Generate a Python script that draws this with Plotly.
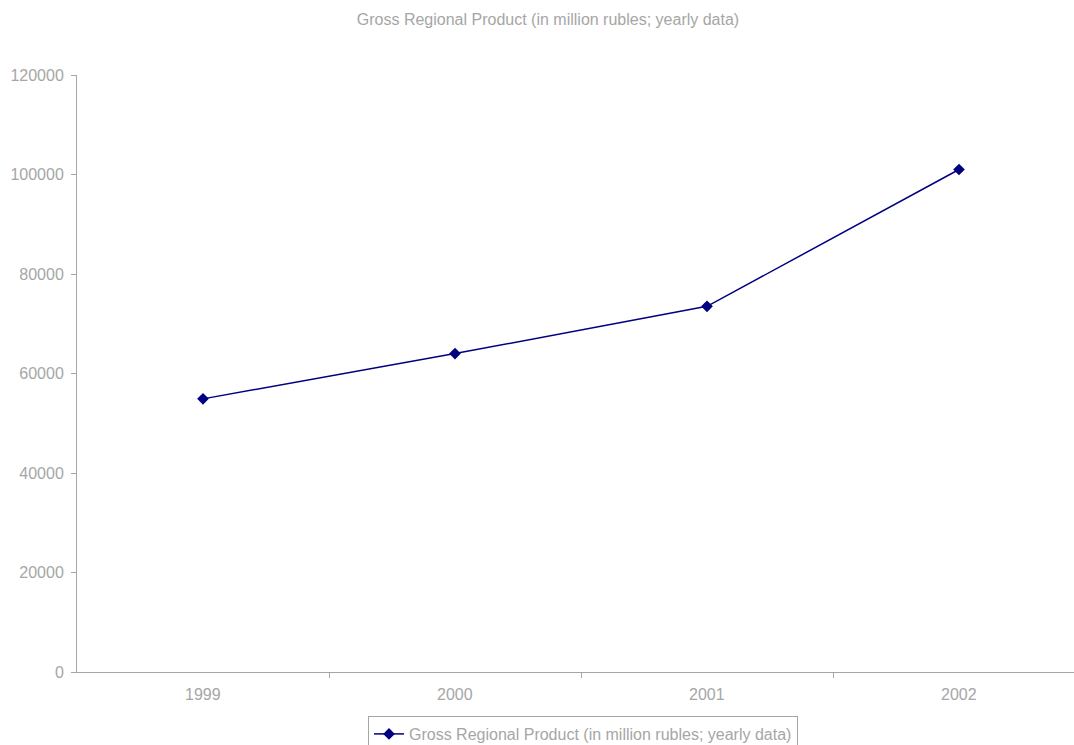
import plotly.graph_objects as go

years = ["1999", "2000", "2001", "2002"]
grp_values = [54900, 64000, 73500, 101000]
y_ticks = [0, 20000, 40000, 60000, 80000, 100000, 120000]
title_text = "Gross Regional Product (in million rubles; yearly data)"

GRAY = "#a6a6a6"
NAVY = "#000080"
FONT = "Liberation Sans, Arial, sans-serif"

fig = go.Figure()
fig.add_trace(go.Scatter(
    x=list(range(len(years))), y=grp_values, mode="lines+markers",
    name=title_text,
    line=dict(color=NAVY, width=1.5),
    marker=dict(symbol="diamond", size=9, color=NAVY),
))

fig.update_layout(
    width=1074, height=745,
    margin=dict(l=77, r=0, t=75, b=73),
    paper_bgcolor="white", plot_bgcolor="white",
    font=dict(family=FONT, size=16, color=GRAY),
    title=dict(text=title_text, x=548/1074, xref="container", xanchor="center",
               y=1-19/745, yref="container", yanchor="middle",
               font=dict(size=16, color=GRAY)),
    showlegend=True,
    legend=dict(orientation="h", x=(583-77)/997, xanchor="center",
                y=(745-716)/745, yref="container", yanchor="top",
                bordercolor=GRAY, borderwidth=1, bgcolor="white",
                font=dict(size=16, color=GRAY)),
    xaxis=dict(range=[-0.5, -0.5 + 997/252], tickmode="array",
               tickvals=[0.5, 1.5, 2.5], ticktext=["", "", ""],
               ticks="outside", ticklen=5, tickcolor=GRAY,
               showline=True, linecolor=GRAY, linewidth=1,
               showgrid=False, zeroline=False, fixedrange=True),
    yaxis=dict(range=[0, 120000], tickmode="array", tickvals=y_ticks,
               ticktext=[str(v) for v in y_ticks],
               ticks="outside", ticklen=5, tickcolor=GRAY,
               showline=True, linecolor=GRAY, linewidth=1,
               showgrid=False, zeroline=False,
               tickfont=dict(size=16, color=GRAY), ticklabelstandoff=4),
)

for i, yr in enumerate(years):
    fig.add_annotation(x=i, y=0, xref="x", yref="paper", text=yr,
                       showarrow=False, yanchor="top", yshift=-12,
                       font=dict(size=16, color=GRAY))

fig.write_html("out.html")
